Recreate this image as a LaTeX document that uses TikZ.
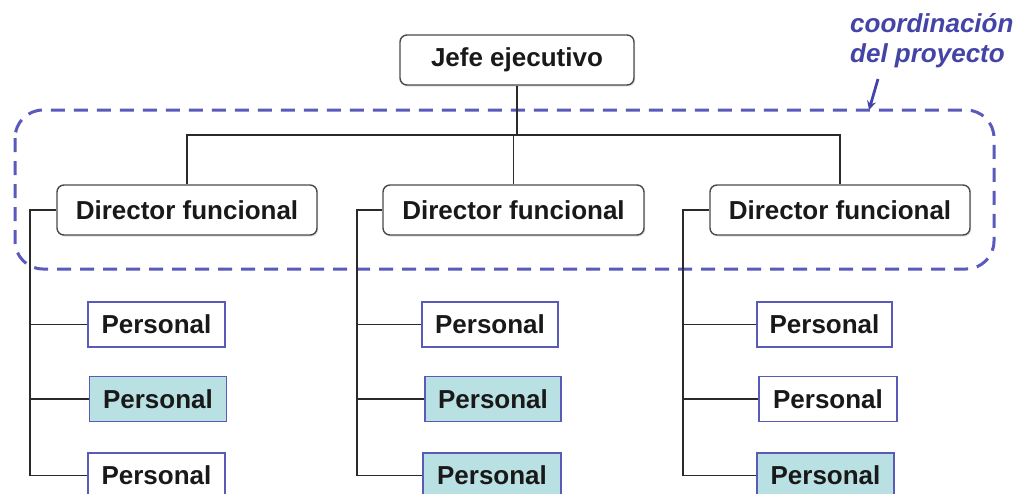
\documentclass[tikz,border=0pt]{standalone}
\usepackage{fontspec}
\setmainfont{Liberation Sans}
\usetikzlibrary{arrows.meta,shadows}
\definecolor{linkgray}{HTML}{2A2A2A}
\definecolor{boxedge}{HTML}{4A4A4A}
\definecolor{staffedge}{HTML}{5A5AB8}
\definecolor{stafffill}{HTML}{B9E0E3}
\definecolor{noteblue}{HTML}{4444A6}
\definecolor{dashblue}{HTML}{5A5ABC}
\tikzset{
  x=1pt, y=-1pt,
  boxfont/.style={font=\fontsize{26}{30}\selectfont\bfseries, text=black!90},
  headbox/.style={boxfont, draw=boxedge, line width=1.4pt, fill=white,
    rounded corners=7pt, minimum height=50pt, inner sep=0pt,
    drop shadow={opacity=0.25, shadow xshift=1.2pt, shadow yshift=-1.5pt}},
  staffbox/.style={boxfont, draw=staffedge, line width=1.6pt, fill=white,
    minimum height=45pt, minimum width=137pt, inner sep=0pt},
  shaded/.style={staffbox, fill=stafffill},
  link/.style={draw=linkgray, line width=1.6pt},
  zone/.style={draw=dashblue, line width=3pt, dash pattern=on 14pt off 9pt,
    rounded corners=28pt},
  note/.style={font=\fontsize{26}{30}\selectfont\bfseries\itshape,
    text=noteblue, align=left, inner sep=0pt}
}
\begin{document}
\begin{tikzpicture}
\useasboundingbox (0,0) rectangle (1018,493);
\fill[white] (0,0) rectangle (1018,493);

% project coordination zone
\draw[zone] (15,110) rectangle (994,269);

% top level
\node[headbox, minimum width=234pt] (jefe) at (517,60) {Jefe ejecutivo};

% functional directors
\node[headbox, minimum width=260pt] (dL) at (187,210) {Director funcional};
\node[headbox, minimum width=261pt] (dM) at (513.5,210) {Director funcional};
\node[headbox, minimum width=260pt] (dR) at (840,210) {Director funcional};

% staff, left column
\node[staffbox] (pL1) at (156.5,324.5) {Personal};
\node[shaded]   (pL2) at (158,399) {Personal};
\node[staffbox] (pL3) at (156.5,475.5) {Personal};
% staff, middle column
\node[staffbox, minimum width=136pt] (pM1) at (490,324.5) {Personal};
\node[shaded, minimum width=136pt]   (pM2) at (493,399) {Personal};
\node[shaded, minimum width=138pt]   (pM3) at (492,475.5) {Personal};
% staff, right column
\node[staffbox, minimum width=135pt] (pR1) at (824.5,324.5) {Personal};
\node[staffbox, minimum width=138pt] (pR2) at (828,399) {Personal};
\node[shaded, minimum width=137pt]   (pR3) at (825.5,475.5) {Personal};

% bus and spine positions
\coordinate (bus) at (0,135);
\coordinate (vL) at (30,0);
\coordinate (vM) at (357,0);
\coordinate (vR) at (683,0);

% chief to directors
\draw[link] (jefe.south) -- (jefe.south |- bus);
\draw[link] (dL.north) -- (dL.north |- bus) -- (dR.north |- bus) -- (dR.north);
\draw[link] (dM.north) -- (dM.north |- bus);

% directors to staff
\foreach \d/\v/\p in {dL/vL/pL, dM/vM/pM, dR/vR/pR}{
  \draw[link] (\d.west) -- (\d.west -| \v) -- (\v |- \p3.west) -- (\p3.west);
  \draw[link] (\p1.west -| \v) -- (\p1.west);
  \draw[link] (\p2.west -| \v) -- (\p2.west);
}

% annotation
\node[note, anchor=north west] (note) at (850,13) {coordinación\\del proyecto};
\coordinate (tail) at (878,79);
\coordinate (tip) at (869,110);
\draw[draw=noteblue, line width=2.8pt, -{Stealth[length=9pt,width=9pt]}] (tail) -- (tip);
\end{tikzpicture}
\end{document}
